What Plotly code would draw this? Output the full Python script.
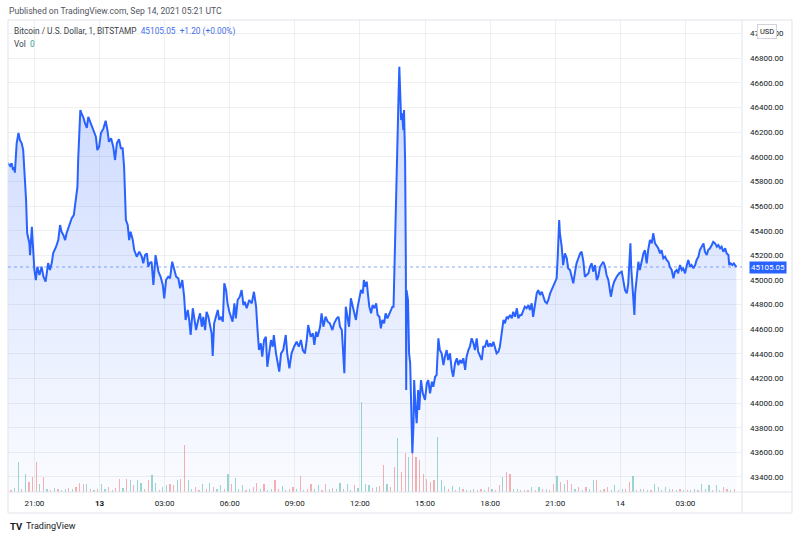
import pandas as pd
import plotly.graph_objects as go

# ---------------- data ----------------
# price samples: minutes after 2021-09-12 19:00 UTC and BTC/USD close
minutes = [45,53,57,61,64,66,71,76,80,85,
89,92,97,100,106,108,113,115,120,124,
128,134,140,145,151,158,163,168,172,180,
186,191,195,200,205,209,216,223,229,235,
239,241,244,247,252,255,260,265,269,274,
278,283,290,294,299,304,311,317,322,326,
332,338,343,348,354,359,364,368,371,373,
378,382,386,392,396,403,410,417,421,426,
431,435,438,444,449,455,463,469,475,479,
484,490,495,501,507,512,518,523,529,534,
538,544,548,552,558,562,567,573,578,583,
587,592,596,601,606,610,613,617,622,627,
631,636,641,645,650,654,659,664,668,673,
677,682,688,693,698,702,707,714,721,727,
733,737,741,746,750,755,760,764,769,774,
779,782,788,793,797,802,808,815,819,825,
831,838,845,851,857,862,868,873,877,884,
890,894,899,903,910,914,919,925,931,937,
944,949,956,961,965,970,974,977,981,985,
990,995,1000,1005,1009,1014,1018,1023,1028,1031,
1035,1039,1042,1046,1051,1055,1060,1065,1069,1074,
1078,1082,1087,1091,1096,1100,1105,1110,1113,1116,
1120,1122,1124,1127,1129,1132,1134,1137,1140,1142,
1145,1147,1148,1149,1153,1156,1159,1162,1165,1168,
1170,1174,1177,1181,1184,1189,1194,1200,1205,1209,
1214,1219,1223,1228,1232,1237,1241,1246,1251,1255,
1260,1264,1269,1274,1278,1283,1288,1292,1297,1301,
1306,1311,1315,1320,1324,1329,1334,1338,1343,1347,
1352,1357,1361,1366,1371,1375,1380,1384,1389,1394,
1398,1403,1407,1412,1417,1421,1426,1430,1435,1440,
1444,1449,1454,1458,1463,1467,1472,1476,1481,1486,
1490,1495,1499,1504,1509,1513,1518,1523,1527,1532,
1537,1541,1546,1550,1555,1559,1564,1567,1571,1573,
1578,1582,1587,1592,1596,1601,1606,1610,1615,1619,
1624,1629,1633,1638,1642,1647,1652,1656,1661,1665,
1670,1675,1679,1684,1689,1693,1698,1702,1707,1712,
1714,1719,1723,1730,1737,1744,1748,1753,1758,1762,
1765,1768,1770,1773,1776,1779,1781,1785,1790,1794,
1799,1804,1808,1813,1817,1822,1827,1831,1836,1841,
1845,1850,1854,1859,1864,1868,1873,1877,1882,1887,
1891,1896,1900,1905,1910,1914,1919,1924,1928,1933,
1937,1942,1947,1951,1956,1960,1965,1970,1974,1979,
1983,1988,1993,1997,2002,2007,2011,2016,2020,2025,
2030,2034,2039,2041,2045,2050,2054,2059,2061]

prices = [45952,45925,45949,45893,45917,45871,46112,46193,46136,46109,
46055,45919,45649,45381,45300,45202,45432,45324,45081,44999,
45107,45040,45107,45026,44986,45137,45081,45137,45219,45270,
45324,45446,45392,45365,45324,45379,45446,45500,45527,45649,
45757,45974,46193,46380,46339,46323,46274,46234,46325,46285,
46258,46217,46163,46055,46082,46193,46231,46293,46217,46122,
46150,46082,45974,46109,46142,46069,46069,45919,45649,45487,
45446,45324,45392,45324,45243,45189,45229,45189,45135,45202,
45216,45107,45135,45148,44959,45202,45067,45026,44959,44851,
44999,45026,45013,45148,45081,45026,45013,44932,44999,44864,
44675,44756,44675,44553,44770,44701,44593,44675,44729,44620,
44701,44593,44742,44701,44620,44567,44382,44648,44701,44756,
44675,44701,44661,44973,44918,44810,44742,44688,44661,44810,
44688,44837,44864,44918,44796,44823,44770,44837,44810,44904,
44783,44593,44431,44485,44377,44512,44539,44295,44404,44512,
44458,44553,44404,44323,44255,44404,44431,44553,44404,44282,
44404,44458,44498,44458,44512,44431,44404,44512,44634,44539,
44567,44472,44580,44539,44620,44729,44620,44701,44661,44648,
44593,44648,44688,44701,44620,44593,44404,44242,44783,44701,
44620,44851,44783,44729,44675,44783,44837,44918,44891,44999,
44945,44986,44891,44783,44729,44796,44770,44810,44715,44701,
44607,44675,44648,44729,44688,44715,44756,44783,44783,45216,
45595,45919,46244,46515,46731,46380,46299,46353,46217,46380,
45974,45162,44106,44918,44837,44404,44323,43808,43592,43808,
44187,43944,43836,44106,43944,44187,44079,44025,44161,44187,
44079,44174,44133,44214,44228,44526,44431,44404,44309,44377,
44431,44350,44404,44269,44214,44323,44364,44309,44350,44323,
44364,44269,44377,44431,44458,44526,44485,44431,44526,44417,
44390,44350,44458,44458,44512,44458,44485,44458,44498,44445,
44404,44417,44458,44567,44675,44648,44701,44688,44715,44688,
44742,44701,44770,44688,44715,44715,44756,44783,44770,44796,
44756,44810,44701,44810,44891,44918,44878,44904,44864,44823,
44810,44837,44891,44918,44945,44973,45013,45189,45487,45379,
45270,45121,45216,45176,45094,45081,45026,44973,45067,45135,
45176,45216,45229,45148,45026,45040,45054,45107,45135,45067,
45121,44999,45026,45107,45135,45148,45107,45040,44999,44918,
44864,44945,44986,45026,45054,45067,44999,44918,44891,44973,
45135,45297,45107,44973,44783,44715,44891,45026,45148,45081,
45162,45216,45243,45135,45243,45324,45297,45379,45297,45270,
45257,45216,45243,45176,45189,45162,45148,45107,45081,45013,
45067,45081,45054,45121,45081,45094,45054,45121,45162,45107,
45121,45094,45121,45162,45189,45243,45270,45297,45229,45202,
45243,45257,45284,45310,45297,45270,45284,45257,45270,45229,
45257,45216,45202,45121,45135,45121,45135,45107,45105.05]

# volume per 10-minute slot starting 19:45 (sign: + up bar, - down bar)
vol_start = "2021-09-12 19:45"
vol_signed = [3,-2,4,30,-3,18,-10,-15,-30,8,
-15,3,-2,4,-3,2,3,-4,3,-5,
-9,-8,8,-3,2,-3,8,3,-5,2,
-4,-13,4,-13,12,-7,12,9,-3,-12,
17,9,-2,5,7,-8,-7,12,-13,-47,
12,3,-5,-2,8,-3,9,-5,3,7,
-3,18,-8,14,3,7,-2,3,-5,-9,
3,-8,2,3,-12,-3,6,2,-3,-5,
3,-16,2,-3,-8,3,7,-2,-8,3,
-4,3,9,-3,8,2,-7,4,90,8,
7,-4,5,-6,-27,8,-5,-25,54,-20,
-39,35,-39,-35,-32,-18,-13,-10,-12,55,
12,6,-3,6,-2,5,-3,2,-2,3,
-2,-3,2,-5,3,-2,-7,15,-20,-18,
3,3,-2,2,-2,5,-2,5,-3,3,
-2,-8,16,-10,8,-12,-8,3,-5,2,
-5,3,12,-12,2,-3,-5,2,7,-2,
3,-3,-10,16,-2,3,-3,2,-2,8,
5,-2,5,3,-3,2,-3,2,-2,2,
3,-2,8,3,7,-2,7,2,-5,-3,
2,-3]

last_price = 45105.05
tick_times = ["2021-09-12 21:00","2021-09-13 00:00","2021-09-13 03:00","2021-09-13 06:00",
              "2021-09-13 09:00","2021-09-13 12:00","2021-09-13 15:00","2021-09-13 18:00",
              "2021-09-13 21:00","2021-09-14 00:00","2021-09-14 03:00"]
tick_labels = ["21:00","<b>13</b>","03:00","06:00","09:00","12:00","15:00","18:00","21:00","14","03:00"]

# ---------------- build ----------------
t0 = pd.Timestamp("2021-09-12 19:00")
times = [t0 + pd.Timedelta(minutes=m) for m in minutes]
vol_times = pd.date_range(vol_start, periods=len(vol_signed), freq="10min")
vol_vals = [abs(v) for v in vol_signed]
vol_cols = ["rgba(38,166,154,0.45)" if v > 0 else "rgba(239,83,80,0.45)" for v in vol_signed]

W, H = 800, 539
L, R, T, B = 8, 742, 20, 492
def px(x):
    return (x - L) / (R - L)
def py(y):
    return (B - y) / (B - T)

ymin, ymax = 43278, 47111
FONT = "Roboto"
TXT = "#131722"

fig = go.Figure()
fig.add_trace(go.Bar(x=vol_times, y=vol_vals, marker_color=vol_cols, marker_line_width=0,
                     width=200000, yaxis="y", showlegend=False))
fig.add_trace(go.Scatter(x=times, y=prices, mode="lines", yaxis="y2",
                         line=dict(color="#2962FF", width=2),
                         fill="tozeroy",
                         fillgradient=dict(type="vertical", start=ymin, stop=ymax,
                                           colorscale=[[0, "rgba(41,98,255,0.02)"],
                                                       [1, "rgba(41,98,255,0.27)"]]),
                         showlegend=False))

grid = "rgba(42,46,57,0.07)"
fig.update_layout(
    width=W, height=H,
    margin=dict(l=L, r=W - R, t=T, b=H - B),
    paper_bgcolor="white", plot_bgcolor="white",
    font=dict(family=FONT, size=8, color=TXT),
    bargap=0,
    xaxis=dict(type="date", range=["2021-09-12 19:47", "2021-09-14 05:36:30"],
               tickvals=tick_times, ticktext=tick_labels, showgrid=True, gridcolor=grid,
               gridwidth=1, ticks="", showline=False, zeroline=False, ticklabelstandoff=5,
               tickfont=dict(size=8, color=TXT), anchor="y"),
    yaxis=dict(range=[0, B - T], visible=False, showgrid=False, fixedrange=True),
    yaxis2=dict(range=[ymin, ymax], overlaying="y", side="right", dtick=200,
                tick0=43400, tickformat=".2f", showgrid=True, gridcolor=grid,
                ticks="", showline=False, zeroline=False, ticklabelstandoff=7,
                tickfont=dict(size=8, color=TXT)),
)

shapes = [
    dict(type="rect", xref="paper", yref="paper", x0=px(8), x1=px(792), y0=py(513), y1=py(20),
         line=dict(color="#e0e3eb", width=1), fillcolor="rgba(0,0,0,0)", layer="above"),
    dict(type="line", xref="paper", yref="paper", x0=px(742), x1=px(742), y0=py(513), y1=py(20),
         line=dict(color="#e0e3eb", width=1), layer="above"),
    dict(type="line", xref="paper", yref="paper", x0=px(8), x1=px(792), y0=py(492), y1=py(492),
         line=dict(color="#e0e3eb", width=1), layer="above"),
    dict(type="line", xref="paper", yref="y2", x0=0, x1=1, y0=last_price, y1=last_price,
         line=dict(color="rgba(41,98,255,0.55)", width=1, dash="dot"), layer="above"),
]
fig.update_layout(shapes=shapes)

ann = []
def text(x, y, s, size=8.5, color=TXT, anchor="left", **kw):
    ann.append(dict(xref="paper", yref="paper", x=px(x), y=py(y), text=s, showarrow=False,
                    xanchor=anchor, yanchor="middle", font=dict(family=FONT, size=size, color=color), **kw))

text(7, 11, "Published on TradingView.com, Sep 14, 2021 05:21 UTC", size=8.6, color="#50535e")
text(12, 31, "Bitcoin / U.S. Dollar, 1, BITSTAMP  <span style='color:#3f6ee8'>45105.05  +1.20 (+0.00%)</span>",
     size=8.3, color="#3b3f4a")
text(12, 44, "Vol  <span style='color:#26a69a'>0</span>", size=8.3, color="#3b3f4a")
text(767, 31, "USD", size=7.5, color=TXT, anchor="center", bgcolor="white",
     bordercolor="#d1d4dc", borderwidth=1, borderpad=2)
ann.append(dict(xref="paper", yref="y2", x=px(749), y=last_price, text="45105.05", showarrow=False,
                xanchor="left", yanchor="middle", bgcolor="#2962FF", borderpad=1,
                font=dict(family=FONT, size=8, color="white")))
text(8, 526, "<b>TV</b>", size=9.5, color="#131722")
text(24, 526, "TradingView", size=9, color="#131722")
fig.update_layout(annotations=ann)

fig.write_html("out.html")
